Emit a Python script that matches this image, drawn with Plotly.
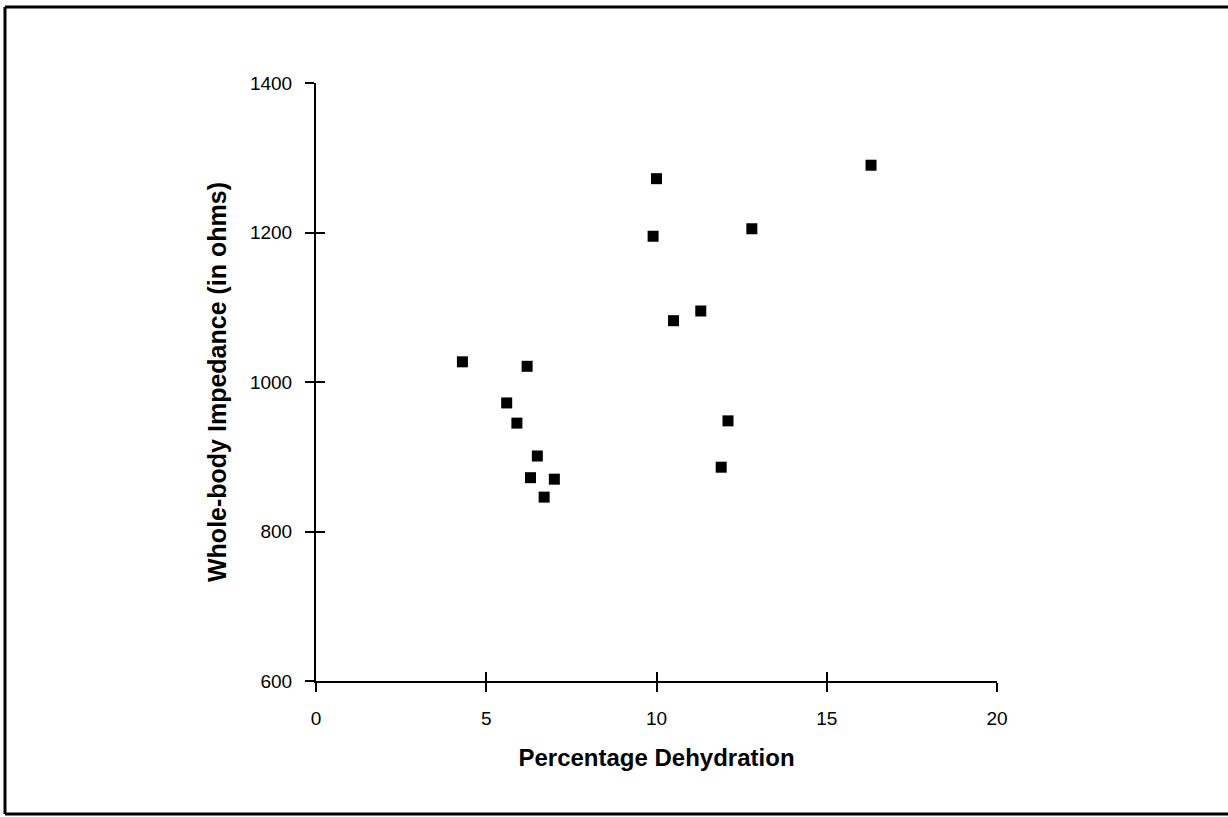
import plotly.graph_objects as go

# Data
dehydration = [4.3, 6.2, 5.6, 5.9, 6.5, 6.3, 7.0, 6.7,
               16.3, 10.0, 9.9, 12.8, 11.3, 10.5, 12.1, 11.9]
impedance = [1027, 1021, 972, 945, 901, 872, 870, 846,
             1290, 1272, 1195, 1205, 1095, 1082, 948, 886]

x_ticks = [0, 5, 10, 15, 20]
y_ticks = [600, 800, 1000, 1200, 1400]

FONT = "Liberation Sans, Arial, sans-serif"
W, H = 1228, 817
L, R, T, B = 316, 231, 83, 136

fig = go.Figure()
fig.add_trace(go.Scatter(
    x=dehydration, y=impedance, mode="markers",
    marker=dict(symbol="square", size=11, color="black"),
    showlegend=False, hoverinfo="x+y"))

# invisible trace on overlay axes so inside ticks are drawn
fig.add_trace(go.Scatter(x=[None], y=[None], xaxis="x2", yaxis="y2",
                         showlegend=False, hoverinfo="skip"))

axis_common = dict(showgrid=False, zeroline=False, color="black",
                   tickfont=dict(family=FONT, size=19, color="black"))

fig.update_layout(
    width=W, height=H,
    margin=dict(l=L, r=R, t=T, b=B),
    paper_bgcolor="white", plot_bgcolor="white",
    font=dict(family=FONT, color="black"),
    xaxis=dict(range=[0, 20], tickvals=x_ticks, ticktext=[str(v) for v in x_ticks],
               showline=True, linecolor="black", linewidth=2,
               ticks="outside", ticklen=9, tickwidth=2, tickcolor="black",
               ticklabelstandoff=10,
               title=dict(text="<b>Percentage Dehydration</b>",
                          font=dict(family=FONT, size=24), standoff=21),
               **axis_common),
    yaxis=dict(range=[600, 1400], tickvals=y_ticks, ticktext=[str(v) for v in y_ticks],
               showline=True, linecolor="black", linewidth=2,
               ticks="outside", ticklen=9, tickwidth=2, tickcolor="black",
               ticklabelstandoff=9,
               title=dict(text="<b>Whole-body Impedance (in ohms)</b>",
                          font=dict(family=FONT, size=25), standoff=16),
               **axis_common),
    xaxis2=dict(range=[0, 20], overlaying="x", tickvals=x_ticks, showticklabels=False,
                ticks="inside", ticklen=9, tickwidth=2, tickcolor="black",
                showline=False, showgrid=False, zeroline=False),
    yaxis2=dict(range=[600, 1400], overlaying="y", tickvals=y_ticks, showticklabels=False,
                ticks="inside", ticklen=9, tickwidth=2, tickcolor="black",
                showline=False, showgrid=False, zeroline=False),
)

# outer frame (left, top, bottom; right side cut off in the reference)
pw, ph = W - L - R, H - T - B
def px(xp):
    return (xp - L) / pw
def py(yp):
    return (H - B - yp) / ph

frame = dict(type="line", xref="paper", yref="paper",
             line=dict(color="black", width=3), layer="above")
fig.add_shape(**frame, x0=px(5), x1=px(5), y0=py(7), y1=py(814))
fig.add_shape(**frame, x0=px(5), x1=px(1240), y0=py(7), y1=py(7))
fig.add_shape(**frame, x0=px(5), x1=px(1240), y0=py(814), y1=py(814))

fig.write_html("out.html")
